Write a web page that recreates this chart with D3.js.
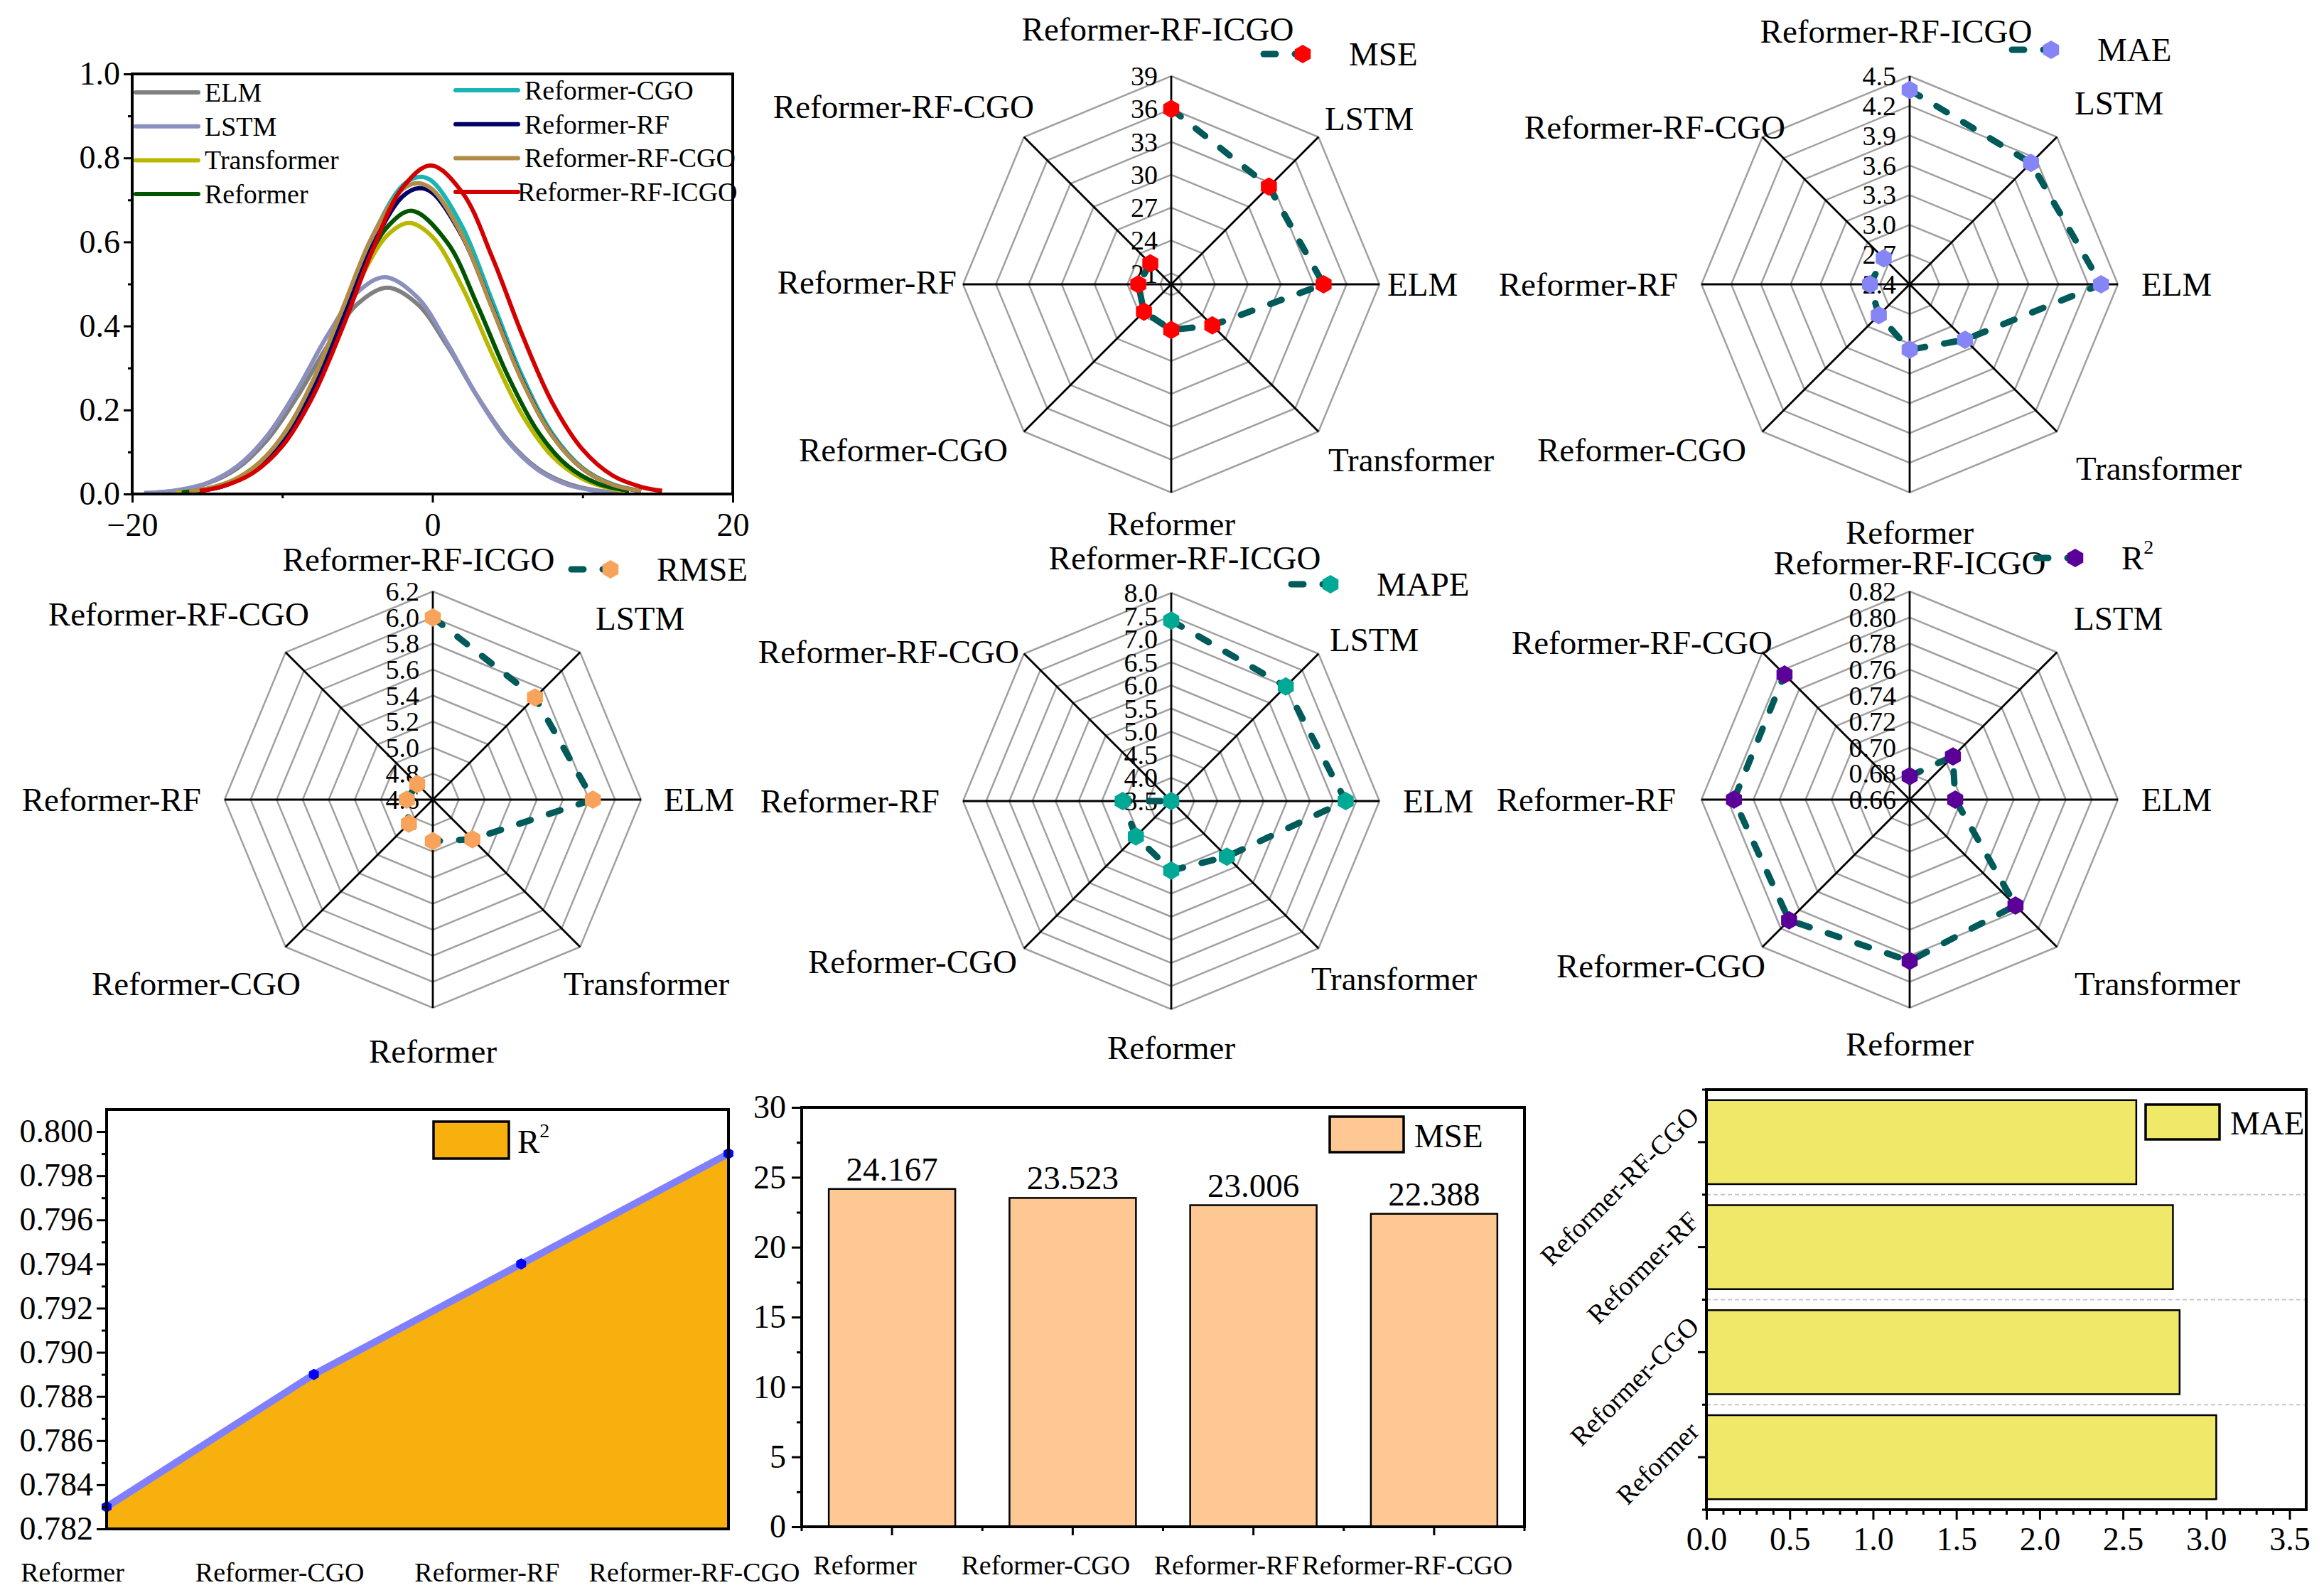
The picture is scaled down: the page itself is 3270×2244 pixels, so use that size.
<!DOCTYPE html>
<html>
<head>
<meta charset="utf-8">
<script src="https://cdn.jsdelivr.net/npm/d3@7"></script>
<style>
  body { margin: 0; background: #fff; }
  svg text { fill: #000; }
</style>
</head>
<body>
<div id="chart"></div>
<script>
// ---------- data ----------
// density curves (x, density)
const elmCurve = [[-19.2,0.002],[-17,0.008],[-15,0.025],[-13,0.061],[-11,0.129],[-9,0.232],[-7,0.352],[-5,0.452],[-3,0.491],[-1,0.452],[1,0.352],[3,0.232],[5,0.129],[7,0.061],[9,0.025],[11,0.008],[12.4,0.0035]]
const lstmCurve = [[-19.2,0.002],[-17,0.009],[-15,0.026],[-13,0.066],[-11,0.139],[-9,0.249],[-7,0.377],[-5,0.48],[-3.15,0.516],[-1,0.468],[1,0.358],[3,0.231],[5,0.126],[7,0.058],[9,0.022],[11,0.007],[12.4,0.003]]
const transformerCurve = [[-17.1,0.003],[-15,0.013],[-13,0.038],[-11,0.093],[-9,0.194],[-7,0.339],[-5,0.498],[-3,0.616],[-1.55,0.645],[0,0.612],[2,0.491],[4,0.331],[6,0.187],[8,0.089],[10,0.036],[12,0.012],[12.7,0.008]]
const reformerCurve = [[-16.7,0.004],[-15,0.012],[-13,0.036],[-11,0.091],[-9,0.191],[-7,0.339],[-5,0.506],[-3,0.636],[-1.35,0.674],[1,0.598],[3,0.449],[5,0.283],[7,0.15],[9,0.067],[11,0.025],[13.1,0.0075]]
const cgoCurve = [[-16.2,0.005],[-14,0.019],[-12,0.054],[-10,0.127],[-8,0.255],[-6,0.43],[-4,0.612],[-2,0.734],[-0.85,0.755],[0,0.744],[2,0.635],[4,0.458],[6,0.279],[8,0.143],[10,0.062],[12,0.023],[13.9,0.0074]]
const rfCurve = [[-16.2,0.005],[-14,0.018],[-12,0.052],[-10,0.122],[-8,0.246],[-6,0.414],[-4,0.59],[-2,0.708],[-0.9,0.728],[0,0.717],[2,0.612],[4,0.442],[6,0.269],[8,0.138],[10,0.06],[12,0.022],[13.9,0.007]]
const rfcgoCurve = [[-16.2,0.006],[-14,0.022],[-12,0.06],[-10,0.137],[-8,0.267],[-6,0.44],[-4,0.614],[-2,0.725],[-1,0.74],[0,0.725],[2,0.614],[4,0.44],[6,0.267],[8,0.137],[10,0.06],[12,0.022],[13.9,0.0073]]
const icgoCurve = [[-15.5,0.0075],[-14,0.018],[-12,0.049],[-10,0.114],[-8,0.23],[-6,0.395],[-4,0.58],[-2,0.729],[-0.1,0.782],[2,0.717],[4,0.562],[6,0.377],[8,0.216],[10,0.106],[12,0.044],[14,0.016],[15.3,0.0075]]

const densNames = ['ELM', 'LSTM', 'Transformer', 'Reformer', 'Reformer-CGO', 'Reformer-RF', 'Reformer-RF-CGO', 'Reformer-RF-ICGO']
const densColors = ['#808080', '#8a8fbd', '#b8b800', '#005500', '#19b5b5', '#000066', '#b08c48', '#d40000']
const densTicksX = [-20, 0, 20]
const densTicksY = [0, 0.2, 0.4, 0.6, 0.8, 1.0]

// radar charts: axes clockwise from the top
const radarAxes = ['Reformer-RF-ICGO', 'LSTM', 'ELM', 'Transformer', 'Reformer', 'Reformer-CGO', 'Reformer-RF', 'Reformer-RF-CGO']
const mseRadar = [36.0, 32.6, 33.9, 25.3, 24.167, 23.523, 23.006, 22.7]
const maeRadar = [4.36, 4.13, 4.33, 3.19, 3.06, 2.84, 2.80, 2.77]
const rmseRadar = [6.0, 5.71, 5.83, 5.03, 4.92, 4.86, 4.80, 4.77]
const mapeRadar = [7.40, 7.0, 7.27, 5.20, 5.0, 4.58, 4.55, 3.5]
const r2Radar = [0.678, 0.707, 0.695, 0.775, 0.784, 0.791, 0.795, 0.796]

const mseTicks = [21, 24, 27, 30, 33, 36, 39]
const maeTicks = [2.4, 2.7, 3.0, 3.3, 3.6, 3.9, 4.2, 4.5]
const rmseTicks = [4.6, 4.8, 5.0, 5.2, 5.4, 5.6, 5.8, 6.0, 6.2]
const mapeTicks = [3.5, 4.0, 4.5, 5.0, 5.5, 6.0, 6.5, 7.0, 7.5, 8.0]
const r2Ticks = [0.66, 0.68, 0.70, 0.72, 0.74, 0.76, 0.78, 0.80, 0.82]

// bottom row
const barModels = ['Reformer', 'Reformer-CGO', 'Reformer-RF', 'Reformer-RF-CGO']
const r2Values = [0.783, 0.789, 0.794, 0.799]
const mseValues = [24.167, 23.523, 23.006, 22.388]
const maeValues = [3.06, 2.84, 2.80, 2.58]

const areaTicksY = [0.782, 0.784, 0.786, 0.788, 0.790, 0.792, 0.794, 0.796, 0.798, 0.800]
const barTicksY = [0, 5, 10, 15, 20, 25, 30]
const hbarTicksX = [0, 0.5, 1.0, 1.5, 2.0, 2.5, 3.0, 3.5]

// ---------- setup ----------
const FONT = "'Liberation Serif', 'Times New Roman', serif"
const width = 3270
const height = 2244

const svg = d3.select('#chart')
  .append('svg')
  .attr('width', width)
  .attr('height', height)
  .attr('font-family', FONT)
  .style('background', '#fff')

function styleAxis(g, size) {
  g.attr('font-family', FONT).attr('font-size', size)
  g.select('.domain').remove()
  g.selectAll('line').attr('stroke', '#000').attr('stroke-width', 3)
  g.selectAll('text').attr('fill', '#000')
}

function frame(box) {
  svg.append('rect')
    .attr('x', box.left).attr('y', box.top)
    .attr('width', box.right - box.left).attr('height', box.bottom - box.top)
    .attr('fill', 'none').attr('stroke', '#000').attr('stroke-width', 4)
}

function hexPath(r) {
  const pts = d3.range(6).map(k => {
    const a = -Math.PI / 2 + k * Math.PI / 3
    return [r * Math.cos(a), r * Math.sin(a)]
  })
  return d3.line()(pts) + 'Z'
}

// ---------- density panel ----------
const dens = { left: 186, right: 1031, top: 104, bottom: 695 }
const dx = d3.scaleLinear().domain([-20, 20]).range([dens.left, dens.right])
const dy = d3.scaleLinear().domain([0, 1]).range([dens.bottom, dens.top])

svg.append('g').attr('transform', `translate(${dens.left},0)`)
  .call(d3.axisLeft(dy).tickValues([0.1, 0.3, 0.5, 0.7, 0.9]).tickSize(6).tickFormat(''))
  .call(g => styleAxis(g, 46))
svg.append('g').attr('transform', `translate(${dens.left},0)`)
  .call(d3.axisLeft(dy).tickValues(densTicksY).tickSize(12).tickPadding(5).tickFormat(d3.format('.1f')))
  .call(g => styleAxis(g, 46))
svg.append('g').attr('transform', `translate(0,${dens.bottom})`)
  .call(d3.axisBottom(dx).tickValues([-10, 10]).tickSize(6).tickFormat(''))
  .call(g => styleAxis(g, 46))
svg.append('g').attr('transform', `translate(0,${dens.bottom})`)
  .call(d3.axisBottom(dx).tickValues(densTicksX).tickSize(12).tickPadding(14).tickFormat(d3.format('d')))
  .call(g => styleAxis(g, 46))

const densSeries = [elmCurve, lstmCurve, transformerCurve, reformerCurve, cgoCurve, rfCurve, rfcgoCurve, icgoCurve]
  .map((data, i) => ({ name: densNames[i], color: densColors[i], data }))

const densLine = d3.line()
  .x(d => dx(d[0]))
  .y(d => dy(d[1]))
  .curve(d3.curveCatmullRom)

svg.append('g')
  .selectAll('path')
  .data(densSeries)
  .enter().append('path')
  .attr('d', d => densLine(d.data))
  .attr('fill', 'none')
  .attr('stroke', d => d.color)
  .attr('stroke-width', 6)
  .attr('stroke-linejoin', 'round')

frame(dens)

// legend, two columns of four
const densLegend = svg.append('g')
  .selectAll('g')
  .data(densSeries)
  .enter().append('g')
  .attr('transform', (d, i) => i < 4
    ? `translate(191,${130 + i * 47.7})`
    : `translate(641,${127 + (i - 4) * 47.7})`)
densLegend.append('line')
  .attr('x1', 0).attr('x2', 88)
  .attr('stroke', d => d.color).attr('stroke-width', 6).attr('stroke-linecap', 'round')
densLegend.append('text')
  .attr('x', (d, i) => i === 7 ? 87 : 97)
  .attr('dominant-baseline', 'central')
  .attr('font-size', 38)
  .text(d => d.name)

// ---------- radar panels ----------
const RADIUS = 293
const labelAnchor = ['middle', 'start', 'start', 'start', 'middle', 'end', 'end', 'end']

function drawRadar(cfg) {
  const { cx, cy, values, ticks, min, fmt, color, name, sup, lx, ly, labels } = cfg
  const r = d3.scaleLinear().domain([min, ticks[ticks.length - 1]]).range([0, RADIUS])
  const ang = i => -Math.PI / 2 + i * Math.PI / 4
  const pt = (i, v) => [cx + r(v) * Math.cos(ang(i)), cy + r(v) * Math.sin(ang(i))]
  const g = svg.append('g')

  // rings
  g.append('g')
    .selectAll('path')
    .data(ticks.filter(t => r(t) > 0))
    .enter().append('path')
    .attr('d', t => d3.line()(radarAxes.map((a, i) => pt(i, t))) + 'Z')
    .attr('fill', 'none')
    .attr('stroke', '#a0a0a0')
    .attr('stroke-width', 2.5)

  // spokes
  g.append('g')
    .selectAll('line')
    .data(radarAxes)
    .enter().append('line')
    .attr('x1', cx).attr('y1', cy)
    .attr('x2', (d, i) => pt(i, ticks[ticks.length - 1])[0])
    .attr('y2', (d, i) => pt(i, ticks[ticks.length - 1])[1])
    .attr('stroke', '#000')
    .attr('stroke-width', 2.8)

  // tick labels along the top spoke
  g.append('g')
    .selectAll('text')
    .data(ticks)
    .enter().append('text')
    .attr('x', cx - 19)
    .attr('y', t => cy - r(t))
    .attr('text-anchor', 'end')
    .attr('dominant-baseline', 'central')
    .attr('font-size', 38)
    .text(d3.format(fmt))

  // axis names
  g.append('g')
    .selectAll('text')
    .data(radarAxes)
    .enter().append('text')
    .attr('x', (d, i) => cx + labels[i][0])
    .attr('y', (d, i) => cy + labels[i][1])
    .attr('text-anchor', (d, i) => labelAnchor[i])
    .attr('dominant-baseline', 'central')
    .attr('font-size', 47)
    .text(d => d)

  // data line (open) and markers
  g.append('path')
    .attr('d', d3.line()(values.map((v, i) => pt(i, v))))
    .attr('fill', 'none')
    .attr('stroke', '#005a5a')
    .attr('stroke-width', 9)
    .attr('stroke-dasharray', '17 27')
    .attr('stroke-linecap', 'round')
    .attr('stroke-linejoin', 'round')

  g.append('g')
    .selectAll('path')
    .data(values)
    .enter().append('path')
    .attr('transform', (v, i) => `translate(${pt(i, v)[0]},${pt(i, v)[1]})`)
    .attr('d', hexPath(13))
    .attr('fill', color)

  // legend
  const lg = g.append('g').attr('transform', `translate(${cx + lx},${cy + ly})`)
  lg.append('line')
    .attr('x1', 4).attr('x2', 88)
    .attr('stroke', '#005a5a').attr('stroke-width', 9)
    .attr('stroke-dasharray', '17 27').attr('stroke-linecap', 'round')
  lg.append('path')
    .attr('transform', 'translate(59,0)')
    .attr('d', hexPath(13))
    .attr('fill', color)
  const lt = lg.append('text')
    .attr('x', 124)
    .attr('dominant-baseline', 'central')
    .attr('font-size', 47)
    .text(name)
  if (sup) {
    lt.append('tspan').attr('font-size', 28).attr('dy', -16).text(sup)
  }
}

drawRadar({
  cx: 1648, cy: 400, values: mseRadar, ticks: mseTicks, min: 20, fmt: 'd', color: '#ff0000', name: 'MSE', lx: 126, ly: -324,
  labels: [[-19, -359], [216, -233], [304, 0], [221, 247], [0, 337], [-230, 233], [-302, -3], [-193, -250]]
})
drawRadar({
  cx: 2687, cy: 400, values: maeRadar, ticks: maeTicks, min: 2.4, fmt: '.1f', color: '#8585f5', name: 'MAE', lx: 140, ly: -330,
  labels: [[-19, -356], [232, -255], [326, 0], [234, 259], [0, 349], [-230, 233], [-326, 0], [-175, -221]]
})
drawRadar({
  cx: 609, cy: 1125, values: rmseRadar, ticks: rmseTicks, min: 4.6, fmt: '.1f', color: '#f8a35c', name: 'RMSE', lx: 191, ly: -324,
  labels: [[-20, -338], [229, -255], [325, 0], [184, 259], [0, 354], [-186, 259], [-326, 0], [-174, -261]]
})
drawRadar({
  cx: 1648, cy: 1127, values: mapeRadar, ticks: mapeTicks, min: 3.5, fmt: '.1f', color: '#00a896', name: 'MAPE', lx: 165, ly: -305,
  labels: [[19, -342], [223, -227], [326, 0], [197, 250], [0, 347], [-217, 226], [-326, 0], [-214, -210]]
})
drawRadar({
  cx: 2687, cy: 1125, values: r2Radar, ticks: r2Ticks, min: 0.66, fmt: '.2f', color: '#5a0099', name: 'R', sup: '2', lx: 174, ly: -340,
  labels: [[0, -333], [231, -255], [326, 0], [232, 259], [0, 344], [-203, 234], [-329, 0], [-193, -221]]
})

// ---------- R2 area chart ----------
const ar = { left: 150, right: 1025, top: 1561, bottom: 2151 }
const ax = d3.scaleLinear().domain([0, barModels.length - 1]).range([ar.left, ar.right])
const ay = d3.scaleLinear().domain([0.782, 0.801]).range([ar.bottom, ar.top])

svg.append('path')
  .datum(r2Values)
  .attr('d', d3.area().x((d, i) => ax(i)).y0(ar.bottom).y1(d => ay(d)))
  .attr('fill', '#f8b00e')
svg.append('path')
  .datum(r2Values)
  .attr('d', d3.line().x((d, i) => ax(i)).y(d => ay(d)))
  .attr('fill', 'none')
  .attr('stroke', '#8080ff')
  .attr('stroke-width', 10)
svg.append('g')
  .selectAll('path')
  .data(r2Values)
  .enter().append('path')
  .attr('transform', (d, i) => `translate(${ax(i)},${ay(d)})`)
  .attr('d', hexPath(8))
  .attr('fill', '#0000ff')

frame(ar)
svg.append('g').attr('transform', `translate(${ar.left},0)`)
  .call(d3.axisLeft(ay).tickValues(areaTicksY.map(t => t + 0.001).filter(t => t < 0.8)).tickSize(7).tickFormat(''))
  .call(g => styleAxis(g, 46))
svg.append('g').attr('transform', `translate(${ar.left},0)`)
  .call(d3.axisLeft(ay).tickValues(areaTicksY).tickSize(14).tickPadding(5).tickFormat(d3.format('.3f')))
  .call(g => styleAxis(g, 46))

svg.append('g')
  .selectAll('text')
  .data(barModels)
  .enter().append('text')
  .attr('x', (d, i) => ax(i) - 48)
  .attr('y', 2212)
  .attr('text-anchor', 'middle')
  .attr('dominant-baseline', 'central')
  .attr('font-size', 38)
  .text(d => d)

svg.append('rect')
  .attr('x', 610).attr('y', 1578).attr('width', 106).attr('height', 52)
  .attr('fill', '#f8b00e').attr('stroke', '#000').attr('stroke-width', 3.5)
svg.append('text')
  .attr('x', 728).attr('y', 1606)
  .attr('dominant-baseline', 'central')
  .attr('font-size', 47)
  .text('R')
  .append('tspan').attr('font-size', 28).attr('dy', -16).text('2')

// ---------- MSE bar chart ----------
const bc = { left: 1128, right: 2145, top: 1558, bottom: 2148 }
const bx = d3.scaleBand().domain(barModels).range([bc.left, bc.right]).paddingInner(0.3).paddingOuter(0.15)
const by = d3.scaleLinear().domain([0, 30]).range([bc.bottom, bc.top])

svg.append('g')
  .selectAll('rect')
  .data(mseValues)
  .enter().append('rect')
  .attr('x', (d, i) => bx(barModels[i]))
  .attr('y', d => by(d))
  .attr('width', bx.bandwidth())
  .attr('height', d => bc.bottom - by(d))
  .attr('fill', '#fec895')
  .attr('stroke', '#000')
  .attr('stroke-width', 2.5)

svg.append('g')
  .selectAll('text')
  .data(mseValues)
  .enter().append('text')
  .attr('x', (d, i) => bx(barModels[i]) + bx.bandwidth() / 2)
  .attr('y', d => by(d) - 12)
  .attr('text-anchor', 'middle')
  .attr('font-size', 47)
  .text(d => d3.format('.3f')(d))

frame(bc)
svg.append('g').attr('transform', `translate(${bc.left},0)`)
  .call(d3.axisLeft(by).tickValues([2.5, 7.5, 12.5, 17.5, 22.5, 27.5]).tickSize(7).tickFormat(''))
  .call(g => styleAxis(g, 46))
svg.append('g').attr('transform', `translate(${bc.left},0)`)
  .call(d3.axisLeft(by).tickValues(barTicksY).tickSize(14).tickPadding(8))
  .call(g => styleAxis(g, 46))

const bandStep = bx.step()
svg.append('g')
  .selectAll('line')
  .data(d3.range(barModels.length + 1))
  .enter().append('line')
  .attr('x1', k => bc.left + k * bandStep).attr('x2', k => bc.left + k * bandStep)
  .attr('y1', bc.bottom).attr('y2', bc.bottom + 6)
  .attr('stroke', '#000').attr('stroke-width', 3)
svg.append('g')
  .selectAll('line')
  .data(barModels)
  .enter().append('line')
  .attr('x1', d => bx(d) + bx.bandwidth() / 2).attr('x2', d => bx(d) + bx.bandwidth() / 2)
  .attr('y1', bc.bottom).attr('y2', bc.bottom + 12)
  .attr('stroke', '#000').attr('stroke-width', 3)
svg.append('g')
  .selectAll('text')
  .data(barModels)
  .enter().append('text')
  .attr('x', d => bx(d) + bx.bandwidth() / 2 - 38)
  .attr('y', 2202)
  .attr('text-anchor', 'middle')
  .attr('dominant-baseline', 'central')
  .attr('font-size', 38)
  .text(d => d)

svg.append('rect')
  .attr('x', 1871).attr('y', 1571).attr('width', 104).attr('height', 50)
  .attr('fill', '#fec895').attr('stroke', '#000').attr('stroke-width', 3.5)
svg.append('text')
  .attr('x', 1990).attr('y', 1598)
  .attr('dominant-baseline', 'central')
  .attr('font-size', 47)
  .text('MSE')

// ---------- MAE horizontal bars ----------
const hb = { left: 2401, right: 3245, top: 1533, bottom: 2124 }
const hx = d3.scaleLinear().domain([0, 3.6]).range([hb.left, hb.right])
const hy = d3.scaleBand().domain(barModels.slice().reverse()).range([hb.top, hb.bottom]).paddingInner(0.2).paddingOuter(0.1)
const hStep = hy.step()

// dashed separators between categories
svg.append('g')
  .selectAll('line')
  .data([1, 2, 3])
  .enter().append('line')
  .attr('x1', hb.left).attr('x2', hb.right)
  .attr('y1', k => hb.top + k * hStep).attr('y2', k => hb.top + k * hStep)
  .attr('stroke', '#c8c8c8').attr('stroke-width', 2).attr('stroke-dasharray', '6 4')

svg.append('g')
  .selectAll('rect')
  .data(maeValues)
  .enter().append('rect')
  .attr('x', hx(0))
  .attr('y', (d, i) => hy(barModels[i]))
  .attr('width', d => hx(d) - hx(0))
  .attr('height', hy.bandwidth())
  .attr('fill', '#f0e868')
  .attr('stroke', '#000')
  .attr('stroke-width', 2.5)

frame(hb)
const hMinor = d3.range(1, 36).map(k => k / 10).filter(v => Math.round(v * 10) % 5 !== 0)
svg.append('g').attr('transform', `translate(0,${hb.bottom})`)
  .call(d3.axisBottom(hx).tickValues(hMinor).tickSize(7).tickFormat(''))
  .call(g => styleAxis(g, 46))
svg.append('g').attr('transform', `translate(0,${hb.bottom})`)
  .call(d3.axisBottom(hx).tickValues(hbarTicksX).tickSize(14).tickPadding(10).tickFormat(d3.format('.1f')))
  .call(g => styleAxis(g, 46))

svg.append('g')
  .selectAll('line')
  .data(d3.range(barModels.length + 1))
  .enter().append('line')
  .attr('x1', hb.left - 6).attr('x2', hb.left)
  .attr('y1', k => hb.top + k * hStep).attr('y2', k => hb.top + k * hStep)
  .attr('stroke', '#000').attr('stroke-width', 3)
svg.append('g')
  .selectAll('line')
  .data(barModels)
  .enter().append('line')
  .attr('x1', hb.left - 12).attr('x2', hb.left)
  .attr('y1', d => hy(d) + hy.bandwidth() / 2).attr('y2', d => hy(d) + hy.bandwidth() / 2)
  .attr('stroke', '#000').attr('stroke-width', 3)
svg.append('g')
  .selectAll('text')
  .data(barModels)
  .enter().append('text')
  .attr('transform', d => `translate(${hb.left - 8},${hy(d) + hy.bandwidth() / 2 - 34}) rotate(-45)`)
  .attr('text-anchor', 'end')
  .attr('font-size', 38)
  .text(d => d)

svg.append('rect')
  .attr('x', 3019).attr('y', 1554).attr('width', 104).attr('height', 49)
  .attr('fill', '#f0e868').attr('stroke', '#000').attr('stroke-width', 3.5)
svg.append('text')
  .attr('x', 3138).attr('y', 1580)
  .attr('dominant-baseline', 'central')
  .attr('font-size', 47)
  .text('MAE')
</script>
</body>
</html>
